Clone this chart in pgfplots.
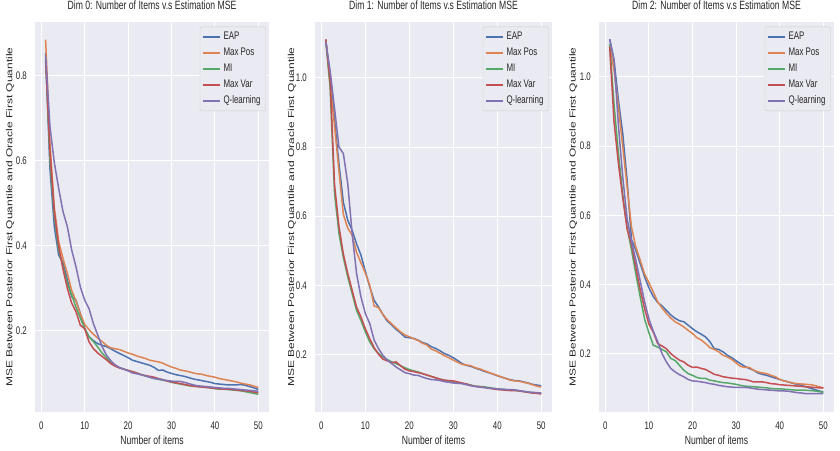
\documentclass[border=0pt]{standalone}
\usepackage{fontspec}
\setmainfont[FakeStretch=0.72]{Liberation Sans}
\newfontfamily\ylfont{Liberation Sans}
\usepackage{graphicx}
\usepackage{pgfplots}
\usepackage{pgfplotstable}
\pgfplotsset{compat=1.18}
\definecolor{bg}{HTML}{EAEAF2}
\definecolor{txt}{HTML}{262626}
\definecolor{cEAP}{HTML}{4C72B0}
\definecolor{cMP}{HTML}{DD8452}
\definecolor{cMI}{HTML}{55A868}
\definecolor{cMV}{HTML}{C44E52}
\definecolor{cQ}{HTML}{8172B3}
\definecolor{lgedge}{HTML}{CCCCCC}

\pgfplotstableread{
x eap mp mi mv q
1 0.853 0.884 0.840 0.835 0.845
2 0.580 0.640 0.600 0.620 0.680
3 0.445 0.490 0.470 0.480 0.595
4 0.378 0.410 0.390 0.400 0.535
5 0.360 0.370 0.350 0.345 0.480
6 0.320 0.335 0.310 0.300 0.445
7 0.280 0.295 0.285 0.265 0.390
8 0.272 0.270 0.255 0.245 0.350
9 0.240 0.240 0.230 0.213 0.303
10 0.205 0.215 0.205 0.205 0.272
11 0.186 0.203 0.186 0.174 0.252
12 0.177 0.192 0.175 0.158 0.217
13 0.170 0.183 0.162 0.148 0.190
14 0.166 0.175 0.148 0.140 0.163
15 0.163 0.166 0.137 0.132 0.143
16 0.158 0.160 0.126 0.123 0.130
17 0.152 0.158 0.118 0.117 0.120
18 0.147 0.156 0.113 0.113 0.114
19 0.142 0.152 0.110 0.110 0.110
20 0.137 0.148 0.107 0.107 0.106
21 0.131 0.145 0.104 0.104 0.101
22 0.128 0.141 0.101 0.101 0.099
23 0.125 0.138 0.097 0.097 0.097
24 0.122 0.135 0.094 0.095 0.094
25 0.119 0.131 0.091 0.093 0.091
26 0.114 0.129 0.088 0.091 0.088
27 0.107 0.127 0.086 0.088 0.087
28 0.108 0.124 0.084 0.085 0.085
29 0.103 0.119 0.082 0.082 0.083
30 0.100 0.115 0.079 0.080 0.082
31 0.097 0.112 0.077 0.078 0.081
32 0.095 0.108 0.075 0.076 0.081
33 0.093 0.106 0.073 0.074 0.079
34 0.090 0.104 0.071 0.072 0.076
35 0.087 0.101 0.070 0.070 0.073
36 0.085 0.099 0.069 0.069 0.071
37 0.083 0.098 0.068 0.068 0.070
38 0.081 0.095 0.067 0.067 0.069
39 0.079 0.093 0.066 0.066 0.068
40 0.076 0.091 0.064 0.065 0.067
41 0.075 0.088 0.063 0.064 0.066
42 0.074 0.086 0.063 0.063 0.065
43 0.073 0.084 0.062 0.063 0.065
44 0.073 0.082 0.061 0.062 0.064
45 0.073 0.080 0.060 0.061 0.063
46 0.074 0.077 0.059 0.060 0.062
47 0.072 0.075 0.057 0.059 0.061
48 0.069 0.073 0.055 0.058 0.060
49 0.066 0.070 0.053 0.056 0.059
50 0.062 0.067 0.051 0.055 0.058
}\dzero

\pgfplotstableread{
x eap mp mi mv q
1 1.110 1.110 1.110 1.112 1.105
2 1.000 0.980 0.970 0.990 1.020
3 0.878 0.860 0.665 0.690 0.911
4 0.752 0.730 0.550 0.570 0.800
5 0.640 0.605 0.480 0.490 0.781
6 0.588 0.565 0.424 0.434 0.694
7 0.559 0.545 0.376 0.385 0.549
8 0.520 0.495 0.327 0.337 0.434
9 0.487 0.465 0.298 0.308 0.366
10 0.440 0.435 0.265 0.274 0.318
11 0.395 0.400 0.236 0.245 0.289
12 0.356 0.340 0.216 0.219 0.241
13 0.337 0.335 0.202 0.200 0.216
14 0.315 0.315 0.192 0.186 0.197
15 0.296 0.300 0.185 0.181 0.183
16 0.285 0.288 0.178 0.176 0.173
17 0.272 0.276 0.173 0.178 0.163
18 0.262 0.265 0.167 0.167 0.155
19 0.250 0.256 0.161 0.157 0.147
20 0.248 0.251 0.156 0.152 0.144
21 0.246 0.245 0.152 0.150 0.140
22 0.241 0.240 0.149 0.147 0.139
23 0.234 0.232 0.144 0.144 0.134
24 0.230 0.227 0.140 0.140 0.130
25 0.222 0.215 0.136 0.136 0.127
26 0.217 0.210 0.132 0.132 0.126
27 0.210 0.203 0.128 0.128 0.124
28 0.202 0.196 0.125 0.125 0.121
29 0.197 0.190 0.122 0.124 0.119
30 0.190 0.183 0.119 0.123 0.117
31 0.182 0.177 0.117 0.120 0.116
32 0.173 0.171 0.116 0.117 0.115
33 0.168 0.169 0.114 0.114 0.112
34 0.165 0.167 0.111 0.110 0.109
35 0.160 0.161 0.108 0.107 0.107
36 0.156 0.158 0.107 0.106 0.105
37 0.151 0.153 0.106 0.104 0.104
38 0.147 0.148 0.104 0.102 0.102
39 0.143 0.143 0.102 0.100 0.101
40 0.138 0.139 0.100 0.098 0.100
41 0.134 0.134 0.099 0.097 0.099
42 0.130 0.130 0.098 0.096 0.098
43 0.126 0.125 0.097 0.095 0.098
44 0.124 0.123 0.096 0.095 0.097
45 0.123 0.122 0.094 0.094 0.095
46 0.120 0.119 0.092 0.092 0.093
47 0.117 0.116 0.090 0.090 0.091
48 0.113 0.112 0.089 0.088 0.090
49 0.111 0.108 0.088 0.087 0.089
50 0.109 0.105 0.087 0.085 0.088
}\done

\pgfplotstableread{
x eap mp mi mv q
1 1.109 1.090 1.095 1.087 1.109
2 1.048 1.019 0.920 0.870 1.050
3 0.933 0.914 0.780 0.750 0.860
4 0.836 0.798 0.660 0.650 0.710
5 0.701 0.682 0.565 0.560 0.590
6 0.530 0.566 0.500 0.515 0.525
7 0.499 0.508 0.430 0.450 0.470
8 0.460 0.470 0.364 0.385 0.410
9 0.422 0.430 0.300 0.330 0.350
10 0.390 0.405 0.260 0.285 0.300
11 0.365 0.378 0.224 0.262 0.265
12 0.348 0.350 0.219 0.229 0.235
13 0.338 0.332 0.212 0.222 0.200
14 0.325 0.316 0.205 0.214 0.176
15 0.312 0.303 0.186 0.200 0.157
16 0.302 0.292 0.180 0.190 0.147
17 0.295 0.285 0.166 0.181 0.139
18 0.292 0.277 0.152 0.176 0.133
19 0.282 0.267 0.142 0.166 0.125
20 0.272 0.258 0.137 0.160 0.121
21 0.263 0.246 0.131 0.161 0.120
22 0.256 0.239 0.128 0.157 0.118
23 0.248 0.229 0.128 0.154 0.116
24 0.234 0.217 0.123 0.147 0.113
25 0.214 0.212 0.121 0.140 0.111
26 0.212 0.205 0.118 0.137 0.108
27 0.205 0.195 0.116 0.133 0.106
28 0.195 0.190 0.115 0.131 0.104
29 0.188 0.183 0.113 0.129 0.103
30 0.179 0.173 0.111 0.128 0.102
31 0.171 0.163 0.108 0.126 0.102
32 0.163 0.160 0.106 0.125 0.102
33 0.157 0.160 0.105 0.122 0.101
34 0.152 0.152 0.104 0.118 0.099
35 0.144 0.147 0.103 0.118 0.097
36 0.140 0.144 0.102 0.118 0.096
37 0.137 0.142 0.101 0.116 0.095
38 0.133 0.137 0.099 0.113 0.094
39 0.129 0.133 0.098 0.112 0.093
40 0.125 0.125 0.098 0.110 0.092
41 0.121 0.121 0.097 0.109 0.092
42 0.118 0.118 0.096 0.108 0.091
43 0.114 0.115 0.095 0.107 0.089
44 0.111 0.113 0.094 0.106 0.087
45 0.108 0.112 0.094 0.105 0.086
46 0.104 0.111 0.094 0.104 0.084
47 0.100 0.110 0.093 0.103 0.084
48 0.096 0.108 0.092 0.102 0.084
49 0.092 0.104 0.090 0.101 0.084
50 0.089 0.101 0.088 0.101 0.084
}\dtwo

\pgfplotsset{
  panel/.style={
    scale only axis, height=390pt,
    xmin=-1.45, xmax=52.45,
    axis background/.style={fill=bg},
    axis line style={draw=none},
    major tick length=0pt,
    grid=major, major grid style={white, line width=1pt},
    xtick={0,10,20,30,40,50},
    /pgf/number format/assume math mode=true,
    ticklabel style={font=\fontsize{11}{13}\selectfont, text=txt},
    xticklabel style={yshift=-6pt},
    yticklabel style={xshift=-4.6pt},
    y tick label style={/pgf/number format/fixed, /pgf/number format/fixed zerofill, /pgf/number format/precision=1},
    xlabel={Number of items},
    xlabel style={font=\fontsize{12}{14}\selectfont, text=txt, at={(axis description cs:0.5,0)}, anchor=center, yshift=-28pt},
    ylabel={\scalebox{1}[0.72]{\ylfont\fontsize{12}{14}\selectfont MSE Between Posterior First Quantile and Oracle First Quantile}},
    ylabel style={text=txt, anchor=center},
    title style={font=\fontsize{12}{14}\selectfont, text=txt, at={(axis description cs:0.5,1)}, anchor=center, yshift=10.3pt},
    legend cell align=left,
    legend style={at={(axis description cs:1,1)}, anchor=north east, xshift=-3.3pt, yshift=-4.7pt,
      draw=lgedge, fill=bg, rounded corners=2pt, font=\fontsize{11}{13}\selectfont, text=txt,
      row sep=0pt, inner xsep=2pt, inner ysep=2pt,
      nodes={text height=7.6pt, text depth=2.4pt, inner sep=3pt}},
  },
  ln/.style={line width=1.5pt},
}

\begin{document}
\begin{tikzpicture}
\path[use as bounding box] (0,0) rectangle (840pt,450pt);

\begin{axis}[panel, at={(35pt,38pt)}, anchor=south west, width=234pt,
  ymin=0.0093, ymax=0.9257, ytick={0.2,0.4,0.6,0.8},
  ylabel style={at={([xshift=-25pt]axis description cs:0,0.5)}},
  title={Dim 0: Number of Items v.s Estimation MSE}]
\addplot[cEAP, ln] table[x=x, y=eap] {\dzero};
\addplot[cMP, ln] table[x=x, y=mp] {\dzero};
\addplot[cMI, ln] table[x=x, y=mi] {\dzero};
\addplot[cMV, ln] table[x=x, y=mv] {\dzero};
\addplot[cQ, ln] table[x=x, y=q] {\dzero};
\legend{EAP, Max Pos, MI, Max Var, Q-learning}
\end{axis}

\begin{axis}[panel, at={(315pt,38pt)}, anchor=south west, width=237pt,
  ymin=0.033, ymax=1.162, ytick={0.2,0.4,0.6,0.8,1.0},
  ylabel style={at={([xshift=-23.3pt]axis description cs:0,0.5)}},
  title={Dim 1: Number of Items v.s Estimation MSE}]
\addplot[cEAP, ln] table[x=x, y=eap] {\done};
\addplot[cMP, ln] table[x=x, y=mp] {\done};
\addplot[cMI, ln] table[x=x, y=mi] {\done};
\addplot[cMV, ln] table[x=x, y=mv] {\done};
\addplot[cQ, ln] table[x=x, y=q] {\done};
\legend{EAP, Max Pos, MI, Max Var, Q-learning}
\end{axis}

\begin{axis}[panel, at={(599pt,38pt)}, anchor=south west, width=235pt,
  ymin=0.031, ymax=1.159, ytick={0.2,0.4,0.6,0.8,1.0},
  ylabel style={at={([xshift=-25.7pt]axis description cs:0,0.5)}},
  title={Dim 2: Number of Items v.s Estimation MSE}]
\addplot[cEAP, ln] table[x=x, y=eap] {\dtwo};
\addplot[cMP, ln] table[x=x, y=mp] {\dtwo};
\addplot[cMI, ln] table[x=x, y=mi] {\dtwo};
\addplot[cMV, ln] table[x=x, y=mv] {\dtwo};
\addplot[cQ, ln] table[x=x, y=q] {\dtwo};
\legend{EAP, Max Pos, MI, Max Var, Q-learning}
\end{axis}
\end{tikzpicture}
\end{document}
